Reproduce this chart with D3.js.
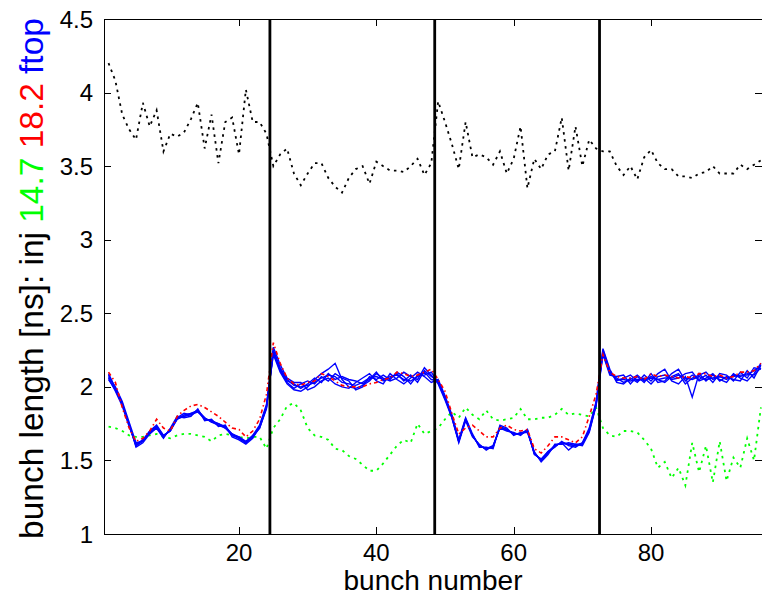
<!DOCTYPE html>
<html>
<head>
<meta charset="utf-8">
<script src="https://cdn.jsdelivr.net/npm/d3@7"></script>
<style>
  body { margin: 0; background: #fff; }
  svg { display: block; font-family: "Liberation Sans", Arial, sans-serif; }
</style>
</head>
<body>
<svg id="chart" width="762" height="602"></svg>
<script>
// bunch numbers along the train, 4 batches of 24
const bunches = d3.range(1, 97);
const batchEdges = [24.5, 48.5, 72.5];
const xTicks = [20, 40, 60, 80];
const yTicks = [1, 1.5, 2, 2.5, 3, 3.5, 4, 4.5];

// bunch length at injection [ns]
const injLen = [
  4.20, 4.08, 3.85, 3.75, 3.68, 3.93, 3.77, 3.88, 3.60, 3.72, 3.70, 3.73, 3.82, 3.93, 3.62, 3.85, 3.52, 3.80, 3.83, 3.58, 4.02, 3.80, 3.80, 3.72,
  3.50, 3.58, 3.62, 3.45, 3.37, 3.45, 3.52, 3.52, 3.42, 3.36, 3.32, 3.42, 3.48, 3.50, 3.38, 3.53, 3.50, 3.47, 3.47, 3.46, 3.50, 3.55, 3.44, 3.52,
  3.94, 3.80, 3.65, 3.48, 3.80, 3.56, 3.58, 3.56, 3.51, 3.60, 3.45, 3.55, 3.77, 3.35, 3.55, 3.48, 3.58, 3.60, 3.83, 3.47, 3.77, 3.50, 3.68, 3.62,
  3.60, 3.60, 3.50, 3.44, 3.50, 3.41, 3.56, 3.61, 3.52, 3.48, 3.48, 3.43, 3.43, 3.42, 3.45, 3.46, 3.50, 3.45, 3.45, 3.45, 3.51, 3.48, 3.51, 3.54
];

// at 14.7 s
const len147 = [
  1.73, 1.72, 1.70, 1.67, 1.66, 1.66, 1.67, 1.68, 1.66, 1.65, 1.67, 1.68, 1.68, 1.67, 1.66, 1.63, 1.67, 1.68, 1.67, 1.66, 1.65, 1.66, 1.66, 1.58,
  1.72, 1.78, 1.87, 1.89, 1.84, 1.72, 1.67, 1.66, 1.64, 1.58, 1.57, 1.53, 1.51, 1.47, 1.43, 1.43, 1.48, 1.54, 1.60, 1.64, 1.62, 1.75, 1.68, 1.70,
  1.72, 1.78, 1.83, 1.79, 1.86, 1.81, 1.78, 1.84, 1.78, 1.77, 1.78, 1.79, 1.85, 1.78, 1.78, 1.79, 1.79, 1.81, 1.85, 1.81, 1.82, 1.81, 1.80, 1.86,
  1.72, 1.67, 1.66, 1.70, 1.70, 1.69, 1.64, 1.58, 1.45, 1.49, 1.38, 1.45, 1.33, 1.62, 1.42, 1.60, 1.35, 1.63, 1.36, 1.52, 1.45, 1.65, 1.50, 1.86
];

// at 18.2 s
const len182 = [
  2.10, 2.03, 1.86, 1.72, 1.63, 1.65, 1.70, 1.78, 1.72, 1.70, 1.80, 1.84, 1.87, 1.88, 1.86, 1.83, 1.80, 1.76, 1.72, 1.71, 1.66, 1.70, 1.78, 1.95,
  2.30, 2.16, 2.06, 2.02, 2.01, 2.03, 2.04, 2.09, 2.07, 2.04, 2.01, 2.00, 2.00, 2.00, 2.02, 2.03, 2.05, 2.06, 2.10, 2.09, 2.07, 2.08, 2.10, 2.12,
  2.05, 1.97, 1.82, 1.68, 1.72, 1.74, 1.70, 1.66, 1.66, 1.72, 1.74, 1.71, 1.70, 1.71, 1.58, 1.55, 1.60, 1.66, 1.66, 1.64, 1.62, 1.66, 1.80, 1.95,
  2.22, 2.10, 2.07, 2.06, 2.06, 2.07, 2.05, 2.09, 2.07, 2.08, 2.07, 2.06, 2.07, 2.06, 2.09, 2.09, 2.07, 2.08, 2.06, 2.07, 2.10, 2.10, 2.11, 2.16
];

// flat top, several acquisitions
const ftop1 = [
  2.08, 1.99, 1.89, 1.74, 1.60, 1.63, 1.69, 1.73, 1.66, 1.71, 1.79, 1.80, 1.81, 1.84, 1.78, 1.77, 1.74, 1.73, 1.67, 1.65, 1.62, 1.66, 1.72, 1.85,
  2.25, 2.13, 2.05, 2.01, 2.00, 2.01, 2.03, 2.06, 2.08, 2.07, 2.03, 2.02, 2.01, 2.03, 2.06, 2.07, 2.05, 2.07, 2.08, 2.05, 2.04, 2.07, 2.10, 2.05,
  2.04, 1.93, 1.80, 1.63, 1.78, 1.67, 1.60, 1.58, 1.59, 1.73, 1.71, 1.68, 1.68, 1.70, 1.55, 1.50, 1.55, 1.60, 1.62, 1.61, 1.60, 1.61, 1.70, 1.88,
  2.24, 2.10, 2.05, 2.05, 2.04, 2.05, 2.05, 2.06, 2.05, 2.06, 2.06, 2.08, 2.06, 2.05, 2.07, 2.05, 2.06, 2.07, 2.06, 2.07, 2.08, 2.08, 2.11, 2.14
];
const ftop2 = [
  2.06, 1.97, 1.87, 1.73, 1.61, 1.64, 1.70, 1.74, 1.67, 1.70, 1.78, 1.81, 1.82, 1.83, 1.79, 1.76, 1.75, 1.72, 1.68, 1.66, 1.63, 1.67, 1.74, 1.88,
  2.22, 2.10, 2.02, 1.98, 1.97, 2.00, 2.05, 2.09, 2.12, 2.16, 2.05, 2.00, 1.99, 2.01, 2.04, 2.09, 2.06, 2.04, 2.06, 2.10, 2.07, 2.05, 2.13, 2.08,
  2.02, 1.91, 1.79, 1.62, 1.77, 1.66, 1.61, 1.57, 1.60, 1.72, 1.70, 1.69, 1.67, 1.71, 1.54, 1.51, 1.56, 1.59, 1.63, 1.60, 1.59, 1.62, 1.72, 1.90,
  2.26, 2.12, 2.03, 2.02, 2.06, 2.03, 2.08, 2.04, 2.09, 2.12, 2.04, 2.02, 2.07, 1.93, 2.09, 2.04, 2.08, 2.05, 2.03, 2.09, 2.06, 2.04, 2.09, 2.16
];
const ftop3 = [
  2.05, 1.98, 1.88, 1.75, 1.59, 1.62, 1.68, 1.72, 1.65, 1.72, 1.80, 1.79, 1.80, 1.85, 1.77, 1.78, 1.73, 1.74, 1.66, 1.64, 1.61, 1.65, 1.73, 1.86,
  2.27, 2.15, 2.06, 2.03, 2.03, 1.98, 2.00, 2.04, 2.06, 2.02, 2.00, 1.99, 2.03, 2.06, 2.09, 2.04, 2.02, 2.09, 2.05, 2.02, 2.06, 2.10, 2.07, 2.03,
  2.05, 1.94, 1.81, 1.64, 1.79, 1.68, 1.59, 1.59, 1.58, 1.74, 1.72, 1.67, 1.69, 1.69, 1.56, 1.49, 1.54, 1.61, 1.61, 1.62, 1.61, 1.60, 1.69, 1.87,
  2.22, 2.08, 2.07, 2.08, 2.02, 2.07, 2.03, 2.09, 2.03, 2.04, 2.09, 2.12, 2.04, 2.08, 2.05, 2.08, 2.03, 2.09, 2.08, 2.04, 2.10, 2.06, 2.13, 2.12
];
const ftop4 = [
  2.07, 2.00, 1.90, 1.76, 1.62, 1.63, 1.70, 1.73, 1.67, 1.70, 1.79, 1.82, 1.81, 1.83, 1.78, 1.77, 1.75, 1.73, 1.68, 1.65, 1.62, 1.66, 1.73, 1.87,
  2.24, 2.11, 2.03, 1.99, 2.02, 2.04, 2.02, 2.07, 2.04, 2.09, 2.06, 2.04, 1.98, 2.00, 2.07, 2.05, 2.08, 2.05, 2.10, 2.07, 2.02, 2.08, 2.08, 2.10,
  2.03, 1.92, 1.80, 1.63, 1.78, 1.67, 1.60, 1.58, 1.59, 1.73, 1.71, 1.68, 1.68, 1.70, 1.55, 1.50, 1.55, 1.60, 1.62, 1.57, 1.61, 1.61, 1.71, 1.89,
  2.25, 2.11, 2.04, 2.06, 2.08, 2.04, 2.06, 2.02, 2.07, 2.08, 2.05, 2.06, 2.09, 2.10, 2.04, 2.06, 2.09, 2.04, 2.07, 2.05, 2.04, 2.11, 2.06, 2.15
];
const ftop5 = [
  2.09, 1.99, 1.88, 1.74, 1.60, 1.64, 1.69, 1.72, 1.66, 1.71, 1.78, 1.80, 1.82, 1.84, 1.79, 1.76, 1.74, 1.72, 1.67, 1.66, 1.62, 1.67, 1.72, 1.86,
  2.23, 2.12, 2.04, 2.02, 1.99, 2.02, 2.06, 2.03, 2.09, 2.05, 2.07, 2.05, 2.04, 2.02, 2.05, 2.10, 2.04, 2.06, 2.09, 2.04, 2.08, 2.03, 2.11, 2.07,
  2.04, 1.93, 1.79, 1.63, 1.78, 1.67, 1.60, 1.58, 1.60, 1.72, 1.71, 1.68, 1.68, 1.71, 1.55, 1.50, 1.56, 1.60, 1.62, 1.61, 1.60, 1.62, 1.70, 1.88,
  2.23, 2.09, 2.06, 2.03, 2.05, 2.08, 2.04, 2.07, 2.05, 2.03, 2.07, 2.09, 2.02, 2.06, 2.08, 2.10, 2.05, 2.07, 2.05, 2.08, 2.07, 2.09, 2.08, 2.13
];
const ftopRuns = [ftop1, ftop2, ftop3, ftop4, ftop5];

const svg = d3.select('#chart');
const margin = {top: 19, right: 0, bottom: 68, left: 104};
const width = 762, height = 602;

const x = d3.scaleLinear()
    .domain([0.34, 96.16])
    .range([margin.left, width - margin.right]);
const y = d3.scaleLinear()
    .domain([1, 4.5])
    .range([height - margin.bottom, margin.top]);

svg.append('clipPath').attr('id', 'plot-clip')
  .append('rect')
    .attr('x', margin.left).attr('y', margin.top)
    .attr('width', width - margin.left - margin.right)
    .attr('height', height - margin.top - margin.bottom);

const plot = svg.append('g').attr('clip-path', 'url(#plot-clip)');

const line = d3.line()
    .x((d, i) => x(bunches[i]))
    .y(d => y(d));

// injection, dotted black
plot.append('path')
    .attr('d', line(injLen))
    .attr('fill', 'none')
    .attr('stroke', '#000')
    .attr('stroke-width', 1.8)
    .attr('stroke-dasharray', '2.5,4.5');

// 14.7 s, dotted green
plot.append('path')
    .attr('d', line(len147))
    .attr('fill', 'none')
    .attr('stroke', '#00ff00')
    .attr('stroke-width', 1.8)
    .attr('stroke-dasharray', '2.5,4.5');

// flat top runs, solid blue
plot.selectAll('.ftop')
  .data(ftopRuns)
  .join('path')
    .attr('class', 'ftop')
    .attr('d', d => line(d))
    .attr('fill', 'none')
    .attr('stroke', '#0000ff')
    .attr('stroke-width', 1.4);

// 18.2 s, dash-dot red
plot.append('path')
    .attr('d', line(len182))
    .attr('fill', 'none')
    .attr('stroke', '#ff0000')
    .attr('stroke-width', 1.6)
    .attr('stroke-dasharray', '4,3,1.5,3');

// batch separators
plot.selectAll('.batch')
  .data(batchEdges)
  .join('line')
    .attr('x1', d => x(d)).attr('x2', d => x(d))
    .attr('y1', margin.top).attr('y2', height - margin.bottom)
    .attr('stroke', '#000')
    .attr('stroke-width', 2.8);

// axes: MATLAB style box with inward ticks
const tickLen = 7;
const axisG = svg.append('g').attr('stroke', '#000').attr('stroke-width', 1);
axisG.append('rect')
    .attr('x', margin.left + 0.5).attr('y', margin.top + 0.5)
    .attr('width', width - margin.left - margin.right)
    .attr('height', height - margin.top - margin.bottom)
    .attr('fill', 'none');

xTicks.forEach(t => {
  const px = Math.round(x(t)) + 0.5;
  axisG.append('line').attr('x1', px).attr('x2', px)
      .attr('y1', y(1)).attr('y2', y(1) - tickLen);
  axisG.append('line').attr('x1', px).attr('x2', px)
      .attr('y1', y(4.5)).attr('y2', y(4.5) + tickLen);
});
yTicks.forEach(t => {
  const py = Math.round(y(t)) + 0.5;
  axisG.append('line').attr('x1', margin.left).attr('x2', margin.left + tickLen)
      .attr('y1', py).attr('y2', py);
  axisG.append('line').attr('x1', width - margin.right).attr('x2', width - margin.right - tickLen)
      .attr('y1', py).attr('y2', py);
});

// tick labels
svg.append('g').selectAll('text')
  .data(xTicks)
  .join('text')
    .attr('x', d => x(d))
    .attr('y', height - margin.bottom + 27)
    .attr('text-anchor', 'middle')
    .attr('font-size', 24)
    .text(d => d);

svg.append('g').selectAll('text')
  .data(yTicks)
  .join('text')
    .attr('x', margin.left - 11)
    .attr('y', d => y(d) + 8.5)
    .attr('text-anchor', 'end')
    .attr('font-size', 24)
    .text(d => d);

// axis labels
svg.append('text')
    .attr('x', (margin.left + width - margin.right) / 2)
    .attr('y', 590)
    .attr('text-anchor', 'middle')
    .attr('font-size', 28)
    .text('bunch number');

const ylab = svg.append('text')
    .attr('transform', `translate(43,${(margin.top + height - margin.bottom) / 2 + 2}) rotate(-90)`)
    .attr('text-anchor', 'middle')
    .attr('font-size', 28);
ylab.append('tspan').attr('fill', '#000').text('bunch length [ns]: inj ');
ylab.append('tspan').attr('fill', '#00ff00').text('14.7 ');
ylab.append('tspan').attr('fill', '#ff0000').text('18.2 ');
ylab.append('tspan').attr('fill', '#0000ff').text('ftop');

// stretch label font so it spans the height seen in the figure
const labLen = ylab.node().getComputedTextLength();
ylab.attr('font-size', 28 * 521 / labLen);
</script>
</body>
</html>
